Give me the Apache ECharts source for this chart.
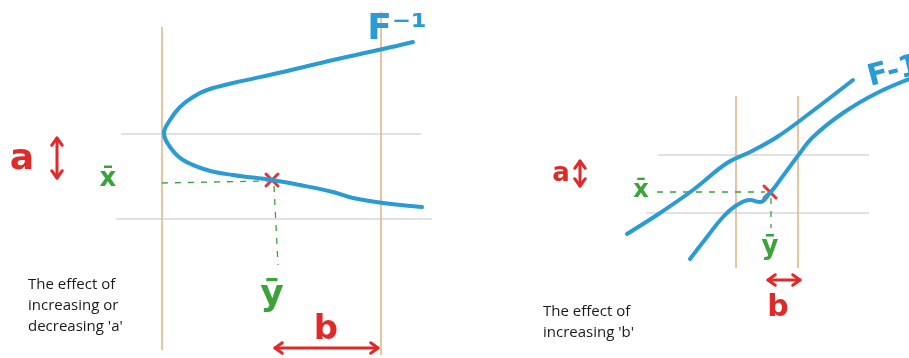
<!DOCTYPE html>
<html><head><meta charset="utf-8">
<script src="https://cdn.jsdelivr.net/npm/echarts@6/dist/echarts.min.js"></script>
<style>html,body{margin:0;padding:0;background:#fff}#c{width:909px;height:358px}</style>
</head><body><div id="c"></div>
<script>
// Sketch coordinates (in picture units)
const leftCurve = [[413,42],[383,49],[333,60],[283,72],[233,83],[207,90],[193,97],[180,107],[170,120],[164,133],[170,147],[183,160],[207,170],[233,175],[272,180],[300,185],[333,192],[353,198],[383,203],[422,207]];
const rightCurveUpper = [[627,234],[660,213],[693,190],[727,163],[750,152],[777,137],[810,113],[853,80]];
const rightCurveLower = [[690,259],[707,237],[723,217],[737,205],[750,200],[760,202],[770,193],[780,180],[797,157],[813,137],[843,113],[877,93],[912,78]];
const orangeLines = [[162,27,162,350],[381,12,381,355],[736,96,736,268],[798,96,798,268]];
const greyLines = [[121,134,421,134],[116,219,432,219],[658,155,869,155],[646,213,869,213]];
const dashLines = [[162,183,268,181],[274,186,278,265],[657,192,765,192],[771,198,771,228]];
const crossPoints = [[272,180],[770,192]];
const arrowLines = [[57,138,57,178],[275,348,378,348],[580,161,580,186],[768,280,800,280]];
const handLabels = [
  ['a',22,160,'#e02a2a',36,0],['x̄',108,179,'#3aa33a',26,0],['ȳ',272,296,'#3aa33a',36,0],['b',326,330,'#e02a2a',34,0],['F⁻¹',397,30,'#2a9bd5',36,0],
  ['a',561,174,'#e02a2a',26,0],['x̄',641,191,'#3aa33a',24,0],['ȳ',770,247,'#3aa33a',26,0],['b',778,308,'#e02a2a',30,0],['F-1',894,72,'#2a9bd5',30,0.25]
];
const captionLeft = ["The effect of","increasing or","decreasing 'a'"];
const captionRight = ["The effect of","increasing 'b'"];
const captionPos = [[28,306],[543,322]];

function seg(a){return {coords:[[a[0],a[1]],[a[2],a[3]]]};}
function arrowHeads(a){
  const out=[]; const L=9, ang=Math.PI/5;
  const ends=[[a[0],a[1],a[2],a[3]],[a[2],a[3],a[0],a[1]]];
  ends.forEach(e=>{
    const dx=e[2]-e[0], dy=e[3]-e[1]; const t=Math.atan2(dy,dx);
    out.push({coords:[[e[0]+L*Math.cos(t+ang),e[1]+L*Math.sin(t+ang)],[e[0],e[1]],[e[0]+L*Math.cos(t-ang),e[1]+L*Math.sin(t-ang)]]});
  });
  return out;
}
function cross(p){const s=6;return [{coords:[[p[0]-s,p[1]-s],[p[0]+s,p[1]+s]]},{coords:[[p[0]-s,p[1]+s],[p[0]+s,p[1]-s]]}];}

const chart = echarts.init(document.getElementById('c'));
const linesBase = {type:'lines',coordinateSystem:'cartesian2d',polyline:true,silent:true,animation:false};
const curveBase = {type:'line',smooth:0.4,symbol:'none',animation:false,silent:true,lineStyle:{color:'#2a9bd5',width:4,cap:'round',join:'round'}};
const series = [
  Object.assign({},linesBase,{data:orangeLines.map(seg),lineStyle:{color:'#d9a66e',width:1.3,opacity:1}}),
  Object.assign({},linesBase,{data:greyLines.map(seg),lineStyle:{color:'#c4c4c4',width:1.2,opacity:1}}),
  Object.assign({},linesBase,{data:dashLines.map(seg),lineStyle:{color:'#3aa33a',width:1.3,type:[6,7],opacity:1}}),
  Object.assign({},curveBase,{data:leftCurve}),
  Object.assign({},curveBase,{data:rightCurveUpper}),
  Object.assign({},curveBase,{data:rightCurveLower}),
  Object.assign({},linesBase,{data:[].concat(arrowLines.map(seg),...arrowLines.map(arrowHeads)),lineStyle:{color:'#e02a2a',width:3,cap:'round',join:'round',opacity:1}}),
  Object.assign({},linesBase,{data:[].concat(...crossPoints.map(cross)),lineStyle:{color:'#e0363a',width:3,cap:'round',opacity:1}}),
  {type:'scatter',symbolSize:0,silent:true,animation:false,itemStyle:{opacity:1},
   data:handLabels.map(l=>({value:[l[1],l[2]],label:{show:true,position:'inside',formatter:l[0],color:l[3],opacity:1,fontSize:l[4],rotate:l[5]*57.3,fontFamily:'DejaVu Sans',fontWeight:'bold'}}))},
  {type:'scatter',symbolSize:0,silent:true,animation:false,itemStyle:{opacity:1},
   data:[captionLeft,captionRight].map((c,i)=>({value:captionPos[i],label:{show:true,position:'right',distance:0,align:'left',verticalAlign:'middle',formatter:c.join('\n'),color:'#1a1a1a',opacity:1,fontSize:15,lineHeight:21,fontFamily:'Open Sans'}}))}
];
chart.setOption({
  animation:false,
  grid:{left:0,right:0,top:0,bottom:0},
  xAxis:{type:'value',min:0,max:909,show:false},
  yAxis:{type:'value',min:0,max:358,inverse:true,show:false},
  series:series
});
</script></body></html>
